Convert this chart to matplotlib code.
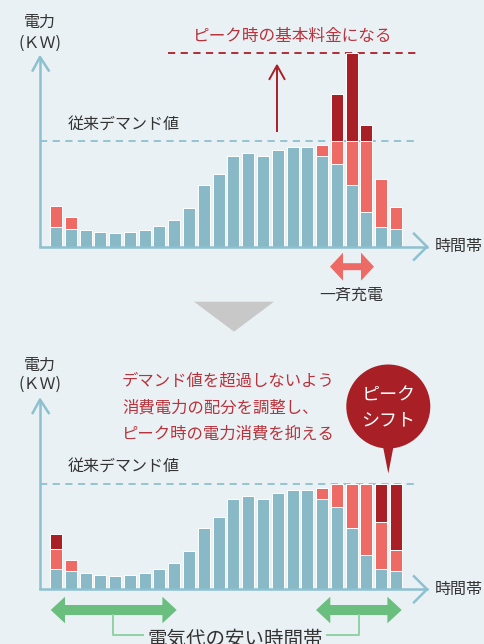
import numpy as np
import matplotlib
matplotlib.use('Agg')
import matplotlib.pyplot as plt
from matplotlib.patches import Polygon, Circle

plt.rcParams['font.family'] = ['Noto Sans CJK JP', 'DejaVu Sans']

# --- data (demand value = 100) ---
hours = np.arange(24)
base = [18.9, 17.0, 15.7, 13.8, 12.9, 13.8, 15.7, 19.5, 25.2, 36.5, 58.5, 68.9,
        85.8, 88.4, 85.8, 91.2, 94.3, 94.3, 85.8, 77.7, 58.5, 32.4, 18.9, 17.0]
# total with EV charging (red part top), 0 = no charging
charge_top = [38.4, 28.0, 0, 0, 0, 0, 0, 0, 0, 0, 0, 0,
              0, 0, 0, 0, 0, 0, 95.9, 100, 100, 100, 63.8, 37.4]
# dark red part top, before shift (over demand value)
peak_before = [0, 0, 0, 0, 0, 0, 0, 0, 0, 0, 0, 0,
               0, 0, 0, 0, 0, 0, 0, 144.0, 183.0, 114.8, 0, 0]
# dark red part top, after peak shift
peak_after = [52.5, 0, 0, 0, 0, 0, 0, 0, 0, 0, 0, 0,
              0, 0, 0, 0, 0, 0, 0, 0, 0, 0, 100, 100]
demand = 100

BG = '#EAF1F5'
BLUE = '#89B9C7'
RED = '#EE6B65'
DARK = '#A81F26'
AXIS = '#8DC1CF'
TXT = '#333333'
TRED = '#B8333B'
GREEN = '#6ABF7F'
GREEN_L = '#8FD3A2'

fig = plt.figure(figsize=(4.85, 6.44), dpi=100, facecolor=BG)
W, H = 485, 644
pitch = 340 / 23


def chart(rect, ylim, dark):
    ax = fig.add_axes(rect)
    ax.set_xlim(-56 / pitch, (W - 56) / pitch)
    ax.set_ylim(*ylim)
    ax.axis('off')
    b = np.array(base)
    c = np.array(charge_top)
    d = np.array(dark)
    kw = dict(width=0.81, edgecolor='white', linewidth=0.7)
    ax.bar(hours, b, color=BLUE, **kw)
    m = c > 0
    ax.bar(hours[m], c[m] - b[m], bottom=b[m], color=RED, **kw)
    m = d > 0
    ax.bar(hours[m], d[m] - c[m], bottom=c[m], color=DARK, **kw)
    ax.plot([(40 - 56) / pitch, (418 - 56) / pitch], [demand, demand], color=AXIS,
            lw=1.3, dashes=(4, 3), zorder=0)
    return ax


ax1 = chart([0, 322 / H, 1, 322 / H], (-71.0, 232.7), peak_before)
ax1.plot([(168 - 56) / pitch, (418 - 56) / pitch], [max(peak_before)] * 2, color=DARK,
         lw=1.3, dashes=(4, 3), zorder=0)
ax2 = chart([0, 0, 1, 322 / H], (-51.9, 253.8), peak_after)

# overlay in pixel coords
ov = fig.add_axes([0, 0, 1, 1])
ov.set_xlim(0, W)
ov.set_ylim(H, 0)
ov.axis('off')
ov.patch.set_alpha(0)

for y0, ytip in [(246.7, 57), (589.3, 399.5)]:
    ov.plot([40, 40], [y0, ytip], color=AXIS, lw=1.8, solid_capstyle='butt')
    ov.plot([32.7, 40, 48.7], [ytip + 13.5, ytip, ytip + 13.5], color=AXIS, lw=1.8)
    ov.plot([40, 427], [y0, y0], color=AXIS, lw=1.8)
    ov.plot([414, 427, 414], [y0 - 13, y0, y0 - 13 + 26], color=AXIS, lw=1.8)
    ov.text(435, y0, '時間帯', fontsize=11.5, color=TXT, va='center', ha='left')

# labels top
ov.text(40, 22, '電力', fontsize=11.5, color=TXT, ha='center', va='center')
ov.text(40, 43, '(ＫＷ)', fontsize=11.5, color=TXT, ha='center', va='center')
ov.text(68, 124, '従来デマンド値', fontsize=11.5, color=TXT, ha='left', va='center')
ov.text(292.5, 36.5, 'ピーク時の基本料金になる', fontsize=12, color=TRED,
        ha='center', va='center')
ov.plot([277, 277], [131, 66], color=DARK, lw=1.4)
ov.plot([269.5, 277, 284.5], [79, 65.5, 79], color=DARK, lw=1.4)

# pink double arrow
ov.add_patch(Polygon([(330, 266.7), (343, 252.7), (343, 263.2), (361, 263.2), (361, 252.7),
                      (374, 266.7), (361, 280.7), (361, 270.2), (343, 270.2), (343, 280.7)],
                     closed=True, color=RED, lw=0))
ov.text(351.7, 295, '一斉充電', fontsize=11.5, color=TXT, ha='center', va='center')

# gray triangle
ov.add_patch(Polygon([(194, 301.7), (274, 301.7), (234, 331.7)], closed=True,
                     color='#C8C8C8', lw=0))

# labels bottom
ov.text(40, 365, '電力', fontsize=11.5, color=TXT, ha='center', va='center')
ov.text(40, 384, '(ＫＷ)', fontsize=11.5, color=TXT, ha='center', va='center')
ov.text(68, 466.5, '従来デマンド値', fontsize=11.5, color=TXT, ha='left', va='center')
for i, line in enumerate(['デマンド値を超過しないよう', '消費電力の配分を調整し、',
                          'ピーク時の電力消費を抑える']):
    ov.text(122, 381.5 + i * 26.3, line, fontsize=11.8, color=TRED,
            ha='left', va='center')

# speech bubble
ov.add_patch(Circle((388.3, 406.5), 42, color=DARK, lw=0))
ov.add_patch(Polygon([(382.5, 444), (394, 444), (388.3, 473.5)], closed=True,
                     color=DARK, lw=0))
ov.text(388.3, 395, 'ピーク', fontsize=13, color='white', ha='center', va='center')
ov.text(388.3, 420, 'シフト', fontsize=13, color='white', ha='center', va='center')


def green_arrow(x0, x1, yc=610):
    hl, hh, sh = 14.3, 13.3, 5
    ov.add_patch(Polygon([(x0, yc), (x0 + hl, yc - hh), (x0 + hl, yc - sh), (x1 - hl, yc - sh),
                          (x1 - hl, yc - hh), (x1, yc), (x1 - hl, yc + hh), (x1 - hl, yc + sh),
                          (x0 + hl, yc + sh), (x0 + hl, yc + hh)],
                         closed=True, color=GREEN, lw=0))


green_arrow(50.7, 176.7)
green_arrow(316, 401.7)
ov.plot([113.3, 113.3, 143], [615, 634.5, 634.5], color=GREEN_L, lw=1.4)
ov.plot([326.7, 359, 359], [634.5, 634.5, 615], color=GREEN_L, lw=1.4)
ov.text(235.5, 639, '電気代の安い時間帯', fontsize=14, color=TXT, ha='center', va='center')

fig.savefig('out.png', dpi=100, facecolor=BG)
